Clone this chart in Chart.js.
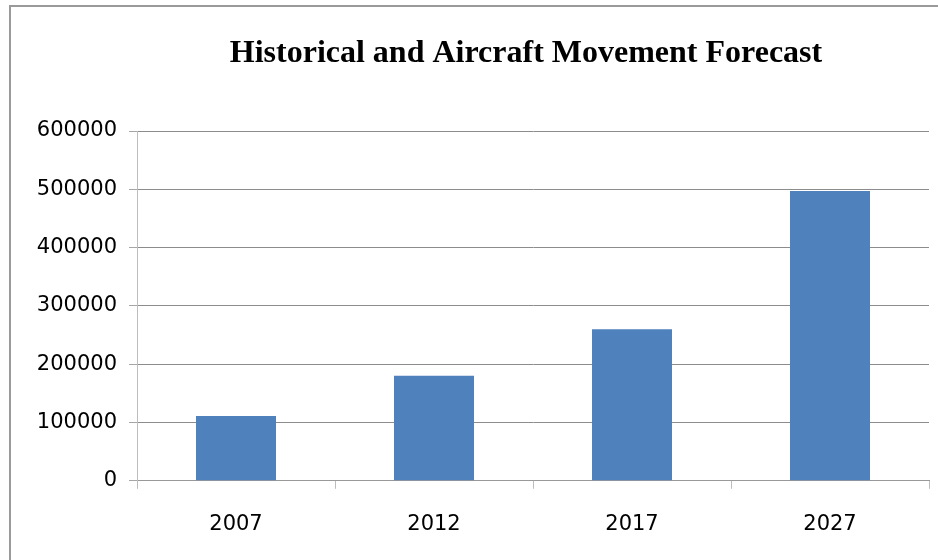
<!DOCTYPE html>
<html lang="en">
<head>
    <meta charset="UTF-8">
    <title>Historical and Aircraft Movement Forecast</title>
    <style>
        html, body { margin: 0; padding: 0; background: #fff; overflow: hidden; }
        .moldura {
            position: absolute; left: 9px; top: 5px; width: 1000px; height: 600px;
            border-left: 2px solid #9a9a9a; border-top: 2px solid #9a9a9a;
        }
        #grafico { position: absolute; left: 0; top: 0; }
    </style>
</head>
<body>
    <div class="moldura"></div>
    <canvas id="grafico" width="938" height="560"></canvas>
<script src="https://cdn.jsdelivr.net/npm/chart.js"></script>
<script>
    // dados
    const anos = ['2007', '2012', '2017', '2027'];
    const movimentos = [111000, 180000, 260000, 497000];
    const tituloTexto = 'Historical and Aircraft Movement Forecast';
    const eixoMin = 0;
    const eixoMax = 600000;
    const eixoPasso = 100000;

    const fonteEixo = { family: 'DejaVu Sans', size: 21 };

    // o titulo original fica centrado numa moldura mais larga que a janela
    const centrarTitulo = {
        id: 'centrarTitulo',
        afterLayout(chart) {
            if (chart.titleBlock) {
                chart.titleBlock.left = 123;
                chart.titleBlock.right = 929;
            }
        }
    };

    new Chart(document.getElementById('grafico'), {
        type: 'bar',
        data: {
            labels: anos,
            datasets: [{
                label: 'Aircraft movements',
                data: movimentos,
                backgroundColor: '#4F81BD',
                barPercentage: 0.404,
                categoryPercentage: 1.0
            }]
        },
        plugins: [centrarTitulo],
        options: {
            responsive: false,
            animation: false,
            devicePixelRatio: 1,
            layout: {
                padding: { left: 0, right: 9, top: 0, bottom: 0 }
            },
            plugins: {
                legend: { display: false },
                tooltip: { enabled: false },
                title: {
                    display: true,
                    text: tituloTexto,
                    color: '#000',
                    font: { family: 'Liberation Serif', size: 32, weight: 'bold', lineHeight: 1.2 },
                    padding: { top: 35, bottom: 57.6 }
                }
            },
            scales: {
                x: {
                    grid: {
                        drawOnChartArea: false,
                        offset: true,
                        tickLength: 8,
                        color: '#bdbdbd'
                    },
                    border: { color: '#999999' },
                    ticks: { color: '#000', font: fonteEixo, padding: 23 }
                },
                y: {
                    min: eixoMin,
                    max: eixoMax,
                    afterFit: (s) => { s.width = 137; },
                    grid: {
                        color: '#8c8c8c',
                        tickColor: '#a6a6a6',
                        tickLength: 8
                    },
                    border: { color: '#bdbdbd' },
                    ticks: {
                        stepSize: eixoPasso,
                        color: '#000',
                        font: fonteEixo,
                        padding: 12,
                        callback: (v) => String(v)
                    }
                }
            }
        }
    });
</script>
</body>
</html>
